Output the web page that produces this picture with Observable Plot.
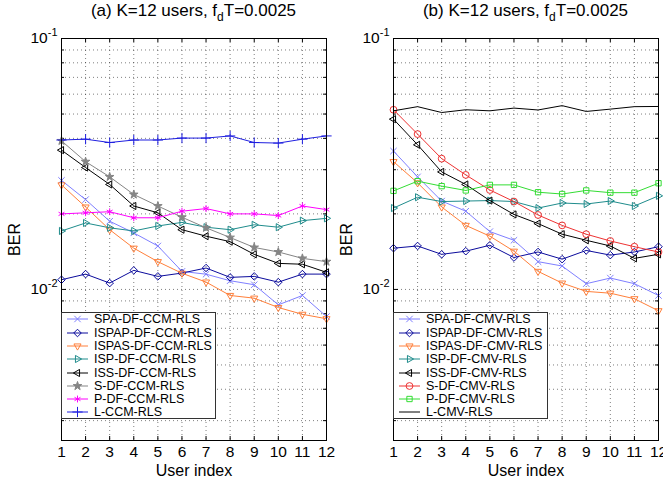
<!DOCTYPE html>
<html>
<head>
<meta charset="utf-8">
<script src="https://cdn.jsdelivr.net/npm/d3@7"></script>
<script src="https://cdn.jsdelivr.net/npm/@observablehq/plot@0.6"></script>
<style>
  body { margin: 0; background: #fff; }
  #root { position: relative; width: 663px; height: 478px; font-family: "Liberation Sans", Arial, sans-serif; color: #000; overflow: hidden; }
  .title { position: absolute; top: 1px; text-align: center; font-size: 17px; line-height: 20px; white-space: nowrap; }
  .legend { position: absolute; background: #fff; border: 1px solid #333; box-sizing: border-box; font-size: 12.5px; }
  .legend .row { position: absolute; left: 0; height: 14px; line-height: 14px; white-space: nowrap; }
  .legend svg { position: absolute; left: 0; top: 0; }
  .legend span { position: absolute; left: 32px; top: 0; }
</style>
</head>
<body>
<div id="root"></div>
<script>
// ---------- data ----------
const users = [1, 2, 3, 4, 5, 6, 7, 8, 9, 10, 11, 12];
const yTicks = [0.01, 0.1];

// (a) CCM
const ccmNames = ["SPA-DF-CCM-RLS", "ISPAP-DF-CCM-RLS", "ISPAS-DF-CCM-RLS", "ISP-DF-CCM-RLS", "ISS-DF-CCM-RLS", "S-DF-CCM-RLS", "P-DF-CCM-RLS", "L-CCM-RLS"];
const spaCCM   = [0.0272, 0.0228, 0.0187, 0.0168, 0.0149, 0.0118, 0.0115, 0.01083, 0.01044, 0.00868, 0.00946, 0.00780];
const ispapCCM = [0.01093, 0.01151, 0.01060, 0.01191, 0.01127, 0.01162, 0.01217, 0.01117, 0.01127, 0.01069, 0.01151, 0.01151];
const ispasCCM = [0.0261, 0.0213, 0.0173, 0.0146, 0.0129, 0.0116, 0.0107, 0.00946, 0.00923, 0.00847, 0.00796, 0.00764];
const ispCCM   = [0.0171, 0.0184, 0.0176, 0.0171, 0.0179, 0.0185, 0.0177, 0.0173, 0.0181, 0.0177, 0.0188, 0.0192];
const issCCM   = [0.0359, 0.0306, 0.0262, 0.0215, 0.0202, 0.0173, 0.0163, 0.0155, 0.0138, 0.0127, 0.0126, 0.0117];
const sCCM     = [0.0391, 0.0323, 0.0281, 0.0239, 0.0215, 0.0194, 0.0176, 0.0161, 0.0147, 0.0141, 0.0133, 0.0129];
const pCCM     = [0.0200, 0.0202, 0.0204, 0.0193, 0.0193, 0.0205, 0.0210, 0.0200, 0.0200, 0.0197, 0.0215, 0.0208];
const lCCM     = [0.0394, 0.0397, 0.0385, 0.0394, 0.0394, 0.0401, 0.0401, 0.0409, 0.0385, 0.0383, 0.0397, 0.0409];

// (b) CMV
const cmvNames = ["SPA-DF-CMV-RLS", "ISPAP-DF-CMV-RLS", "ISPAS-DF-CMV-RLS", "ISP-DF-CMV-RLS", "ISS-DF-CMV-RLS", "S-DF-CMV-RLS", "P-DF-CMV-RLS", "L-CMV-RLS"];
const spaCMV   = [0.0356, 0.0281, 0.0225, 0.0205, 0.0170, 0.0157, 0.0129, 0.0124, 0.01054, 0.01110, 0.01054, 0.00946];
const ispapCMV = [0.0146, 0.0149, 0.0138, 0.0142, 0.0150, 0.0134, 0.0141, 0.0132, 0.0143, 0.0137, 0.0141, 0.0148];
const ispasCMV = [0.0323, 0.0266, 0.0213, 0.0180, 0.0163, 0.0142, 0.0118, 0.0106, 0.00982, 0.00966, 0.00918, 0.00822];
const ispCMV   = [0.0211, 0.0233, 0.0224, 0.0225, 0.0226, 0.0224, 0.0211, 0.0221, 0.0219, 0.0225, 0.0215, 0.0236];
const issCMV   = [0.0477, 0.0377, 0.0294, 0.0262, 0.0226, 0.0199, 0.0183, 0.0166, 0.0157, 0.0149, 0.0133, 0.0138];
const sCMV     = [0.0520, 0.0416, 0.0332, 0.0286, 0.0249, 0.0224, 0.0198, 0.0180, 0.0166, 0.0156, 0.0148, 0.0141];
const pCMV     = [0.0247, 0.0270, 0.0258, 0.0248, 0.0261, 0.0261, 0.0244, 0.0240, 0.0248, 0.0243, 0.0243, 0.0265];
const lCMV     = [0.0515, 0.0535, 0.0507, 0.0520, 0.0515, 0.0528, 0.0519, 0.0540, 0.0512, 0.0523, 0.0535, 0.0536];

// styles
const ccmColors = ["#7f7fff", "#0b0b9c", "#ff7f3a", "#1f8c8c", "#000000", "#858585", "#ff00ff", "#1f1fe0"];
const cmvColors = ["#7f7fff", "#0b0b9c", "#ff7f3a", "#1f8c8c", "#000000", "#ee3333", "#33dd33", "#000000"];
const ccmSymbols = ["times", "diamond2", "triangle2", "triangle2", "triangle2", "star", "asterisk", "plus"];
const cmvSymbols = ["times", "diamond2", "triangle2", "triangle2", "triangle2", "circle", "square2", null];
const symbolRotations = [0, 0, 180, 90, -90, 0, 0, 0];

// ---------- drawing ----------
const root = document.getElementById("root");
const d3Symbols = {
  times: d3.symbolTimes, diamond2: d3.symbolDiamond2, triangle2: d3.symbolTriangle2,
  star: d3.symbolStar, asterisk: d3.symbolAsterisk, plus: d3.symbolPlus,
  circle: d3.symbolCircle, square2: d3.symbolSquare2
};
function symR(s) { return s === "star" ? 2.7 : s === "times" ? 3 : s === "asterisk" ? 3.2 : 3.4; }

const SVG_TOP = 28, SVG_H = 450, MT = 10, MB = 38, MR = 5;
const plotH = SVG_H - MT - MB;
const yGrid = [0.003, 0.004, 0.005, 0.006, 0.007, 0.008, 0.009, 0.01, 0.02, 0.03, 0.04, 0.05, 0.06, 0.07, 0.08, 0.09];
const yMinor = yGrid.filter(v => v !== 0.01);

function panel({left, width, ML, letter, names, colors, symbols, series}) {
  const plotW = width - ML - MR;
  const marks = [
    Plot.gridX(users.slice(1, -1), {stroke: "#000", strokeOpacity: 0.5, strokeDasharray: "1,3"}),
    Plot.gridY(yGrid, {stroke: "#000", strokeOpacity: 0.5, strokeDasharray: "1,3"}),
    Plot.tickX(users, {x: d => d, insetBottom: plotH - 4, stroke: "#000"}),
    Plot.tickX(users, {x: d => d, insetTop: plotH - 4, stroke: "#000"}),
    Plot.tickY(yTicks, {y: d => d, insetRight: plotW - 5, stroke: "#000"}),
    Plot.tickY(yTicks, {y: d => d, insetLeft: plotW - 5, stroke: "#000"}),
    Plot.tickY(yMinor, {y: d => d, insetRight: plotW - 3, stroke: "#000"}),
    Plot.tickY(yMinor, {y: d => d, insetLeft: plotW - 3, stroke: "#000"})
  ];
  series.forEach((vals, i) => {
    const rows = users.map((u, j) => ({user: u, ber: vals[j]}));
    marks.push(Plot.line(rows, {x: "user", y: "ber", stroke: colors[i], strokeWidth: 1}));
    const s = symbols[i];
    if (s) marks.push(Plot.dot(rows, {
      x: "user", y: "ber", symbol: s, rotate: symbolRotations[i], r: symR(s),
      stroke: colors[i], fill: s === "star" ? colors[i] : "none", strokeWidth: 1
    }));
  });
  marks.push(Plot.frame({stroke: "#000"}));
  marks.push(Plot.axisX(users, {tickSize: 0, tickPadding: 5, fontSize: 15, label: "User index", labelAnchor: "center", labelOffset: 35, labelArrow: "none"}));
  marks.push(Plot.axisY(yTicks, {tickSize: 0, tickPadding: 4, fontSize: 15,
    tickFormat: d => String(Math.round(Math.log10(d))),
    label: "BER", labelAnchor: "center", labelOffset: 53, labelArrow: "none"}));

  const svg = Plot.plot({
    width, height: SVG_H,
    marginLeft: ML, marginRight: MR, marginTop: MT, marginBottom: MB,
    x: {type: "linear", domain: [1, 12]},
    y: {type: "log", domain: [0.0025, 0.1]},
    style: {fontFamily: "'Liberation Sans', Arial, sans-serif", fontSize: "15px", color: "#000", background: "transparent", overflow: "visible"},
    marks
  });
  // font sizes of axis texts
  svg.querySelectorAll('g[aria-label$="tick label"]').forEach(g => {
    g.setAttribute("font-size", "15.5px");
    g.querySelectorAll("text").forEach(t => t.setAttribute("font-size", "15.5px"));
  });
  svg.querySelectorAll('g[aria-label$="-axis label"]').forEach(g => {
    g.setAttribute("font-size", "16px");
    g.querySelectorAll("text").forEach(t => t.setAttribute("font-size", "16px"));
  });
  // superscript exponents on y tick labels
  svg.querySelectorAll('g[aria-label="y-axis tick label"] text').forEach(t => {
    const exp = t.textContent;
    t.textContent = "";
    const a = document.createElementNS("http://www.w3.org/2000/svg", "tspan");
    a.textContent = "10";
    const b = document.createElementNS("http://www.w3.org/2000/svg", "tspan");
    b.textContent = exp;
    b.setAttribute("dy", "-0.7em");
    b.setAttribute("font-size", "11px");
    t.append(a, b);
  });
  svg.style.position = "absolute";
  svg.style.left = left + "px";
  svg.style.top = SVG_TOP + "px";
  root.appendChild(svg);

  // title
  const title = document.createElement("div");
  title.className = "title";
  title.style.left = (left + ML) + "px";
  title.style.width = plotW + "px";
  title.innerHTML = `(${letter}) K=12 users, f<span style="font-size:12px;position:relative;top:5px">d</span>T=0.0025`;
  root.appendChild(title);

  // legend
  const lg = document.createElement("div");
  lg.className = "legend";
  lg.style.left = (left + ML) + "px";
  lg.style.top = "312px";
  lg.style.width = "155px";
  lg.style.height = "107px";
  names.forEach((name, i) => {
    const row = document.createElement("div");
    row.className = "row";
    row.style.top = (6.3 + 13.3 * i - 7) + "px";
    row.style.width = "150px";
    const s = d3.select(document.createElementNS("http://www.w3.org/2000/svg", "svg"))
      .attr("width", 30).attr("height", 14);
    s.append("line").attr("x1", 5).attr("x2", 26).attr("y1", 7).attr("y2", 7)
      .attr("stroke", colors[i]).attr("stroke-width", 1);
    const sym = symbols[i];
    if (sym) {
      const r = symR(sym);
      s.append("path")
        .attr("d", d3.symbol(d3Symbols[sym], r * r * Math.PI)())
        .attr("transform", `translate(15.5,7) rotate(${symbolRotations[i]})`)
        .attr("fill", sym === "star" ? colors[i] : "none")
        .attr("stroke", colors[i]).attr("stroke-width", 1);
    }
    row.appendChild(s.node());
    const sp = document.createElement("span");
    sp.textContent = name;
    row.appendChild(sp);
    lg.appendChild(row);
  });
  root.appendChild(lg);
}

panel({left: 0, width: 331, ML: 61, letter: "a", names: ccmNames, colors: ccmColors, symbols: ccmSymbols,
  series: [spaCCM, ispapCCM, ispasCCM, ispCCM, issCCM, sCCM, pCCM, lCCM]});
panel({left: 331, width: 332, ML: 62, letter: "b", names: cmvNames, colors: cmvColors, symbols: cmvSymbols,
  series: [spaCMV, ispapCMV, ispasCMV, ispCMV, issCMV, sCMV, pCMV, lCMV]});
</script>
</body>
</html>
